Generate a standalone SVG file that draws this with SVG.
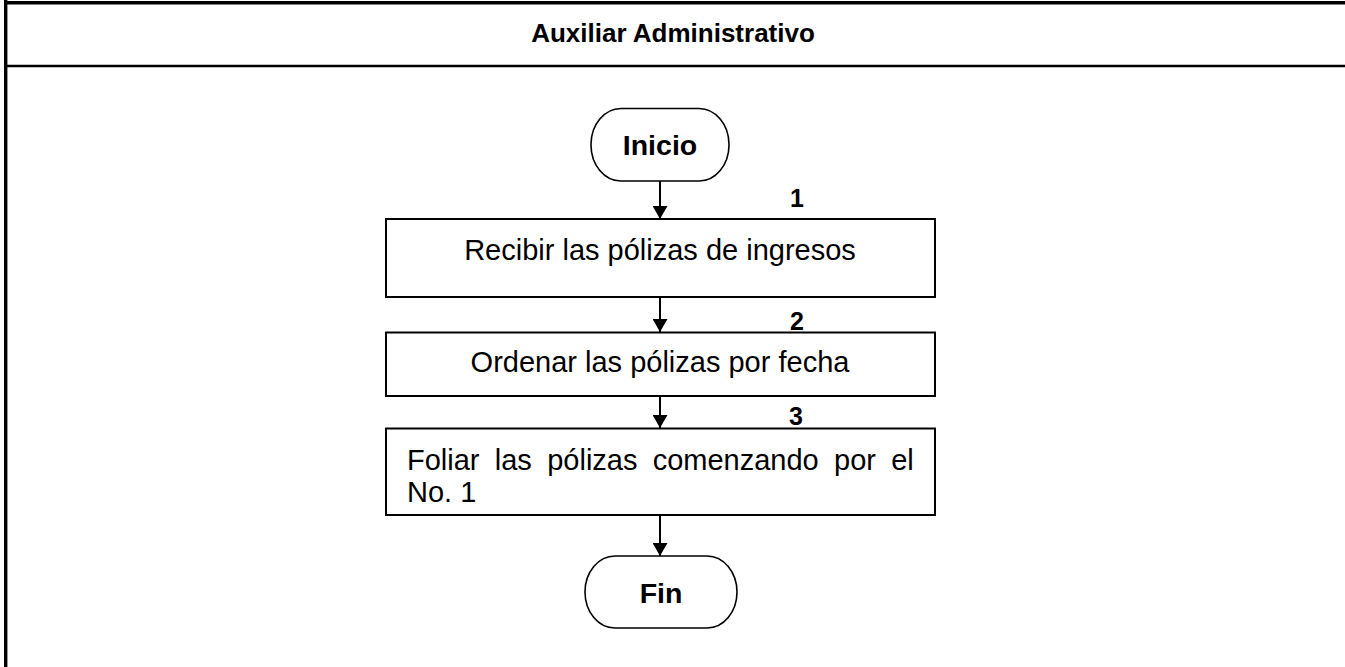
<svg xmlns="http://www.w3.org/2000/svg" width="1345" height="667" viewBox="0 0 1345 667">
<defs>
<style>
.frame{stroke:#000;fill:none}
.box{fill:#fff;stroke:#000;stroke-width:2}
.term{fill:#fff;stroke:#000;stroke-width:1.6}
.t{font-family:"Liberation Sans",Arial,sans-serif;fill:#000;font-size:29px}
.b{font-weight:bold}
.tm{font-size:28.5px}
.n{font-size:25px}
.c{stroke:#000;stroke-width:2;fill:none}
</style>
<marker id="ah" viewBox="0 0 13 15" refX="13" refY="7.5" markerWidth="13" markerHeight="15" markerUnits="userSpaceOnUse" orient="auto">
<path d="M0,0 L13,7.5 L0,15 Z" fill="#000"/>
</marker>
</defs>
<rect width="1345" height="667" fill="#fff"/>
<g id="frame">
<line class="frame" x1="5.7" y1="0" x2="5.7" y2="667" stroke-width="3.4"/>
<line class="frame" x1="4" y1="2.7" x2="1345" y2="2.7" stroke-width="3.5"/>
<line class="frame" x1="4" y1="66" x2="1345" y2="66" stroke-width="2.6"/>
<text class="t b" x="673" y="42" style="font-size:26px" text-anchor="middle">Auxiliar Administrativo</text>
</g>
<g id="connectors">
<line class="c" x1="660" y1="181" x2="660" y2="219" marker-end="url(#ah)"/>
<line class="c" x1="660" y1="297" x2="660" y2="332" marker-end="url(#ah)"/>
<line class="c" x1="660" y1="396" x2="660" y2="428" marker-end="url(#ah)"/>
<line class="c" x1="660" y1="515" x2="660" y2="556" marker-end="url(#ah)"/>
</g>
<g id="inicio">
<rect class="term" x="591" y="108.5" width="138" height="72.5" rx="30" ry="36"/>
<text class="t b tm" x="660" y="155" text-anchor="middle">Inicio</text>
</g>
<g id="step1">
<text class="t b n" x="797" y="207" text-anchor="middle">1</text>
<rect class="box" x="386" y="219" width="549" height="78"/>
<text class="t" x="660" y="260" text-anchor="middle">Recibir las pólizas de ingresos</text>
</g>
<g id="step2">
<text class="t b n" x="797" y="330" text-anchor="middle">2</text>
<rect class="box" x="386" y="332.5" width="549" height="63.5"/>
<text class="t" x="660" y="372" text-anchor="middle">Ordenar las pólizas por fecha</text>
</g>
<g id="step3">
<text class="t b n" x="796" y="425" text-anchor="middle">3</text>
<rect class="box" x="386" y="428.5" width="549" height="86.5"/>
<text class="t" y="470"><tspan x="407">Foliar</tspan><tspan x="494.8">las</tspan><tspan x="547.2">pólizas</tspan><tspan x="652.7">comenzando</tspan><tspan x="834">por</tspan><tspan x="891.2">el</tspan></text>
<text class="t" x="407" y="502">No. 1</text>
</g>
<g id="fin">
<rect class="term" x="585" y="556" width="152" height="72" rx="30" ry="36"/>
<text class="t b tm" x="661" y="603" text-anchor="middle">Fin</text>
</g>
</svg>
